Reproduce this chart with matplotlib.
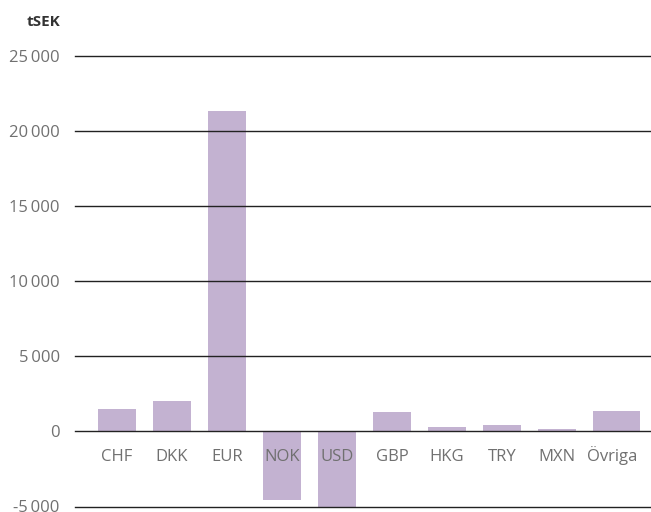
import matplotlib
matplotlib.use("Agg")
import matplotlib.pyplot as plt
from matplotlib.ticker import FuncFormatter, MultipleLocator

plt.rcParams['font.family'] = ['Open Sans', 'DejaVu Sans']

currencies = ["CHF", "DKK", "EUR", "NOK", "USD", "GBP", "HKG", "TRY", "MXN", "Övriga"]
exposure_tsek = [1470, 2000, 21330, -4550, -5000, 1270, 270, 400, 130, 1330]

bar_color = "#c3b2d1"
text_color = "#707070"
line_color = "#222222"

fig = plt.figure(figsize=(6.51, 5.12), dpi=100)
ax = fig.add_axes([75 / 651, 5.5 / 512, 576 / 651, 450.5 / 512])

# the residual bucket is drawn a bit wider than the currency bars
widths = [0.69] * (len(currencies) - 1) + [0.855]
positions = list(range(len(currencies)))
ax.bar([p - 0.345 for p in positions], exposure_tsek, width=widths,
       align="edge", color=bar_color, zorder=1)

ax.set_xlim(-0.764, 9.71)
ax.set_ylim(-5000, 25000)

ax.yaxis.set_major_locator(MultipleLocator(5000))
ax.yaxis.set_major_formatter(FuncFormatter(
    lambda v, _: f"{int(round(v)):,}".replace(",", "\u2009")))
ax.grid(axis="y", color=line_color, linewidth=1.0, clip_on=False)
ax.set_axisbelow(False)

for side in ["top", "right", "left"]:
    ax.spines[side].set_visible(False)
# category labels sit on the zero line
ax.spines["bottom"].set_position(("data", 0))
ax.spines["bottom"].set_visible(False)

ax.set_xticks(positions)
ax.set_xticklabels(currencies)
ax.tick_params(axis="x", length=0, pad=21.6, labelsize=12, labelcolor=text_color)
ax.tick_params(axis="y", length=0, pad=11, labelsize=12, labelcolor=text_color)
for lbl in ax.get_xticklabels():
    lbl.set_verticalalignment("baseline")

fig.text(60 / 651, 1 - 22 / 512, "tSEK", ha="right", va="center",
         fontsize=11, fontweight="bold", color="#333333")

fig.savefig("out.png", dpi=100)
